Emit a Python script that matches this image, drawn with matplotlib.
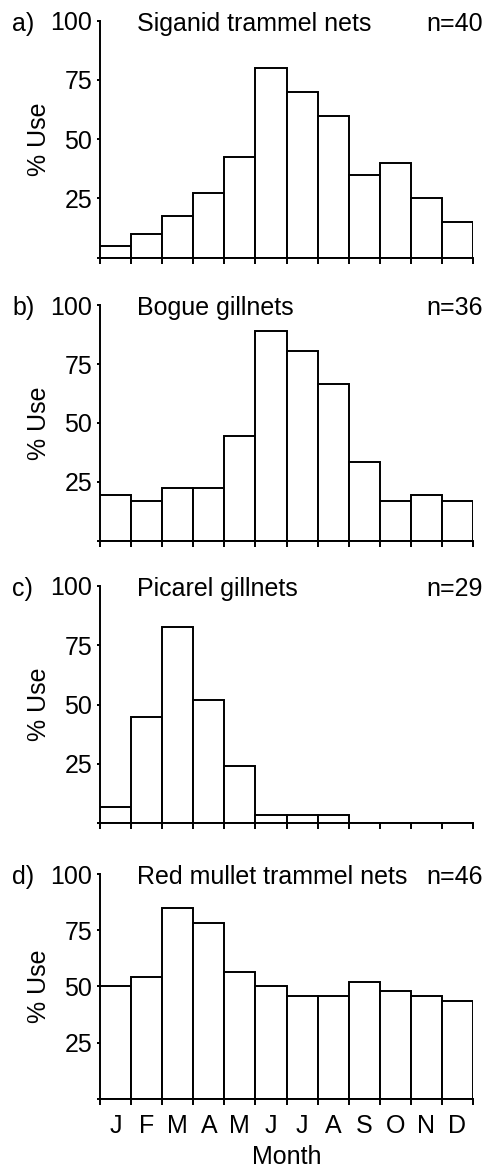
import matplotlib
matplotlib.use('Agg')
import matplotlib.pyplot as plt
import numpy as np

plt.rcParams['font.family'] = ['Liberation Sans', 'DejaVu Sans']

months = ['J', 'F', 'M', 'A', 'M', 'J', 'J', 'A', 'S', 'O', 'N', 'D']

siganid = [5, 10, 17.5, 27.5, 42.5, 80, 70, 60, 35, 40, 25, 15]
bogue = [19.4, 16.7, 22.2, 22.2, 44.4, 88.9, 80.6, 66.7, 33.3, 16.7, 19.4, 16.7]
picarel = [6.9, 44.8, 82.8, 51.7, 24.1, 3.4, 3.4, 3.4, 0, 0, 0, 0]
red_mullet = [50, 54.3, 84.8, 78.3, 56.5, 50, 45.7, 45.7, 52.2, 47.8, 45.7, 43.5]

labels = ['a)', 'b)', 'c)', 'd)']
titles = ['Siganid trammel nets', 'Bogue gillnets', 'Picarel gillnets', 'Red mullet trammel nets']
n_text = ['n=40', 'n=36', 'n=29', 'n=46']
series = [siganid, bogue, picarel, red_mullet]

# axes boxes [left, bottom, width, height] in figure fraction
boxes = [[0.2053, 0.7803, 0.766, 0.2020],
         [0.2053, 0.5390, 0.766, 0.2009],
         [0.2053, 0.2981, 0.766, 0.2026],
         [0.2053, 0.0631, 0.766, 0.1918]]

fs = 18
fig = plt.figure(figsize=(4.87, 11.73), dpi=100)

for i in range(4):
    ax = fig.add_axes(boxes[i])
    x = np.arange(12)
    ax.bar(x, series[i], width=1, align='edge', color='white',
           edgecolor='black', linewidth=1.4, zorder=3)
    ax.set_xlim(0, 12)
    ax.set_ylim(0, 100)
    ax.spines['top'].set_visible(False)
    ax.spines['right'].set_visible(False)
    ax.spines['left'].set_linewidth(1.4)
    ax.spines['bottom'].set_linewidth(1.4)
    ax.spines['bottom'].set_zorder(4)

    ax.set_yticks([0, 25, 50, 75, 100])
    ax.set_yticklabels(['', '25', '50', '75', '100'], fontsize=fs)
    ax.tick_params(axis='y', direction='out', length=2.5, width=1.4, pad=3)

    ax.set_xticks(np.arange(13))
    ax.tick_params(axis='x', which='major', direction='out', length=4.5,
                   width=1.4, labelbottom=False)
    if i == 3:
        ax.set_xticks(np.arange(12) + 0.5, minor=True)
        ax.set_xticklabels(months, minor=True, fontsize=fs)
        ax.tick_params(axis='x', which='minor', length=0, pad=11)
        ax.set_xlabel('Month', fontsize=fs, labelpad=5)

    ax.set_ylabel('% Use', fontsize=fs)
    ax.yaxis.set_label_coords(-0.13, 0.5)

    ax.text(-0.235, 0.957, labels[i], transform=ax.transAxes,
            fontsize=fs, ha='left', va='baseline')
    ax.text(0.099, 0.957, titles[i], transform=ax.transAxes,
            fontsize=fs, ha='left', va='baseline')
    ax.text(1.027, 0.957, n_text[i], transform=ax.transAxes,
            fontsize=fs, ha='right', va='baseline')

plt.savefig('out.png', dpi=100)
